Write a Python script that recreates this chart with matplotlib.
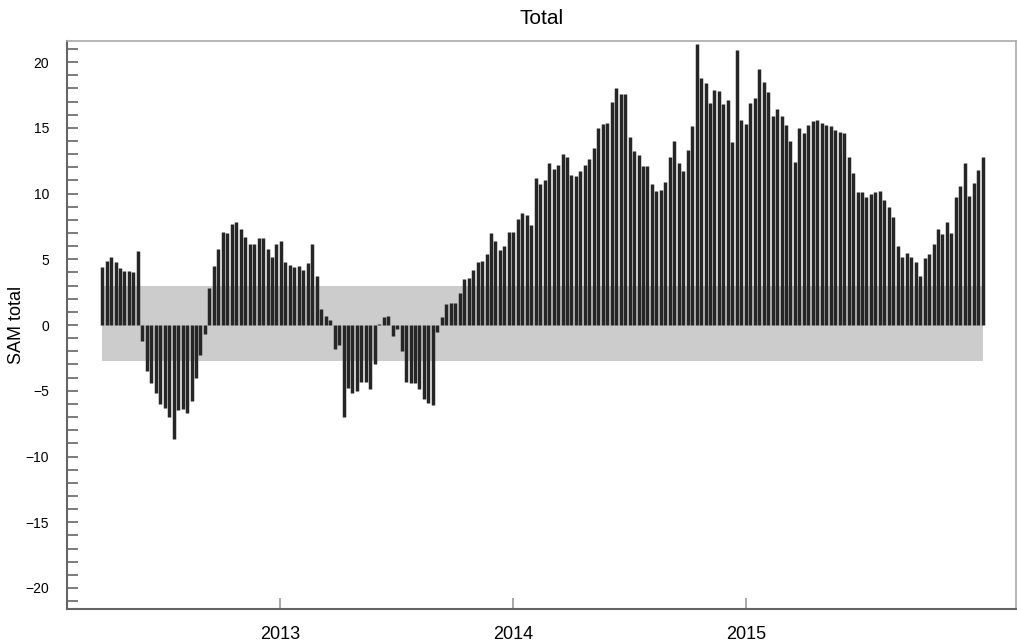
import numpy as np
import pandas as pd
import matplotlib
matplotlib.use("Agg")
import matplotlib.pyplot as plt
import matplotlib.dates as mdates
from matplotlib.ticker import MultipleLocator

plt.rcParams['font.family'] = ['Liberation Sans', 'DejaVu Sans']

# weekly SAM total values (first week ends 2012-03-28)
start_date = '2012-03-28'
sam_total = [
    4.4, 4.9, 5.2, 4.8, 4.3, 4.1, 4.1, 4.0, 5.65, -1.2,
    -3.5, -4.4, -5.2, -6.0, -6.3, -7.0, -8.7, -6.5, -6.4, -6.7,
    -5.8, -4.0, -2.3, -0.7, 2.8, 4.5, 5.8, 7.1, 7.0, 7.7,
    7.8, 7.3, 6.7, 6.2, 6.2, 6.6, 6.6, 5.8, 5.2, 6.2,
    6.4, 4.8, 4.6, 4.4, 4.5, 4.2, 4.7, 6.2, 3.7, 1.2,
    0.7, 0.4, -1.8, -1.5, -7.0, -4.8, -5.2, -5.0, -4.3, -4.3,
    -4.9, -3.0, 0.1, 0.6, 0.7, -0.8, -0.3, -2.0, -4.3, -4.4,
    -4.4, -4.9, -5.6, -5.9, -6.1, -0.5, 0.6, 1.6, 1.7, 1.7,
    2.4, 3.5, 3.6, 4.2, 4.8, 4.9, 5.4, 7.0, 6.4, 5.7,
    6.0, 7.1, 7.1, 8.1, 8.5, 8.4, 7.6, 11.2, 10.7, 11.0,
    12.3, 11.9, 12.2, 13.0, 12.8, 11.4, 11.3, 11.7, 12.2, 12.6,
    13.5, 15.0, 15.3, 15.4, 17.0, 18.0, 17.6, 17.6, 14.3, 13.2,
    12.9, 12.1, 12.1, 10.7, 10.2, 10.3, 10.9, 12.8, 14.0, 12.3,
    11.7, 13.3, 15.1, 21.4, 18.8, 18.4, 16.9, 17.9, 17.8, 16.8,
    17.1, 13.9, 20.9, 15.6, 15.3, 16.9, 17.3, 19.5, 18.5, 17.7,
    15.9, 16.4, 15.9, 15.2, 14.0, 12.4, 15.0, 14.6, 15.2, 15.5,
    15.6, 15.4, 15.2, 15.1, 14.8, 14.7, 14.6, 12.8, 11.6, 10.1,
    10.1, 9.7, 10.0, 10.1, 10.2, 9.5, 9.0, 8.2, 6.0, 5.2,
    5.5, 5.2, 4.8, 3.7, 5.1, 5.4, 6.2, 7.3, 6.9, 7.8,
    7.0, 9.7, 10.6, 12.3, 9.8, 10.8, 11.8, 12.8,
]
band_low = -2.74
band_high = 2.97
year_ticks = ['2013-01-01', '2014-01-01', '2015-01-01']

dates = pd.date_range(start=start_date, periods=len(sam_total), freq='7D')

fig = plt.figure(figsize=(10.17, 6.44), dpi=100)
ax = fig.add_axes([0.0659, 0.0543, 0.933, 0.882])

# grey band behind the bars
ax.fill_between([dates[0], dates[-1] + pd.Timedelta(days=1)], band_low, band_high,
                color='#cccccc', lw=0, zorder=1)
ax.vlines(dates, 0, sam_total, color='#262626', lw=2.5, zorder=2)

ax.set_xlim(pd.Timestamp('2012-02-02'), pd.Timestamp('2016-02-27'))
ax.set_ylim(-21.6, 21.6)

ax.set_xticks(pd.to_datetime(year_ticks))
ax.xaxis.set_major_formatter(mdates.DateFormatter('%Y'))
ax.yaxis.set_major_locator(MultipleLocator(5))
ax.yaxis.set_minor_locator(MultipleLocator(1))

ax.tick_params(axis='y', which='both', direction='in', length=8, width=1.2,
               color='#666666', labelsize=10, pad=13)
ax.tick_params(axis='x', which='major', direction='in', length=8, width=1.2,
               color='#999999', labelsize=13, pad=12)

for side in ['left', 'bottom']:
    ax.spines[side].set_color('#666666')
    ax.spines[side].set_linewidth(1.5)
for side in ['top', 'right']:
    ax.spines[side].set_color('#aaaaaa')
    ax.spines[side].set_linewidth(1.2)

ax.set_ylabel('SAM total', fontsize=13)
ax.yaxis.set_label_coords(-0.044, 0.5)
ax.set_title('Total', fontsize=15, pad=12)

plt.savefig('out.png', dpi=100)
